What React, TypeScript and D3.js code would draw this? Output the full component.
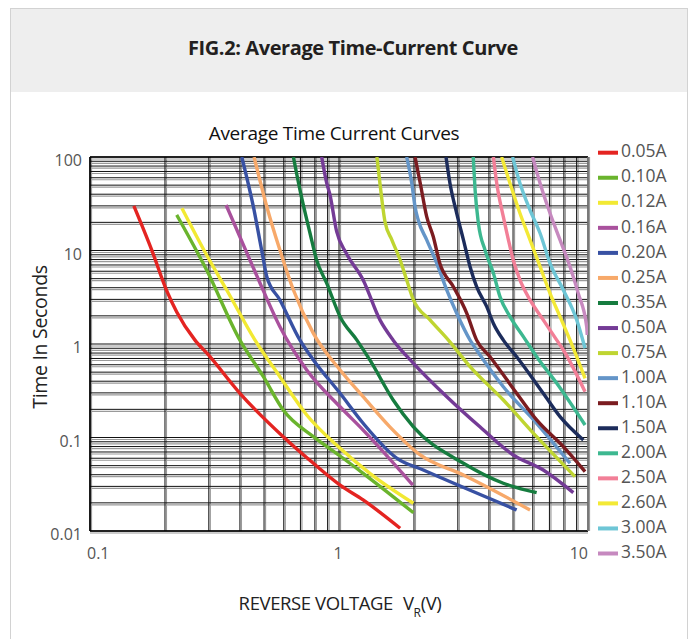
import React from "react";
import * as d3 from "d3";

// ---------- data ----------
const currents = ["0.05A","0.10A","0.12A","0.16A","0.20A","0.25A","0.35A","0.50A","0.75A","1.00A","1.10A","1.50A","2.00A","2.50A","2.60A","3.00A","3.50A"];
const colors = ["#e42421","#6ab42d","#f2e933","#a9519d","#3851a3","#f7a96a","#167c3f","#743b96","#bfd531","#6495c8","#7b1c20","#1c2c5b","#3db890","#f27f97","#f3e936","#6ec6d6","#c689bf"];

const xTickValues = [0.1, 1, 10];
const xTickLabels = ["0.1", "1", "10"];
const yTickValues = [100, 10, 1, 0.1, 0.01];
const yTickLabels = ["100", "10", "1", "0.1", "0.01"];

const s005 = [[0.150,30],[0.177,10.1],[0.204,3.63],[0.223,2.2],[0.264,1.10],[0.299,0.763],[0.40,0.297],[0.597,0.102],[0.789,0.053],[1.01,0.031],[1.25,0.0215],[1.76,0.0107]];
const s010 = [[0.223,24],[0.294,6.18],[0.40,1.10],[0.497,0.447],[0.597,0.197],[0.789,0.102],[1.01,0.0634],[1.25,0.0414],[1.99,0.0157]];
const s012 = [[0.234,28.3],[0.294,8.95],[0.354,3.78],[0.46,1.10],[0.579,0.447],[0.742,0.174],[1.01,0.0766],[1.33,0.0414],[1.99,0.0198]];
const s016 = [[0.352,30.7],[0.413,11.5],[0.482,4.46],[0.579,1.53],[0.742,0.527],[1.01,0.213],[1.25,0.120],[1.98,0.031]];
const s020 = [[0.407,100],[0.453,29.4],[0.489,10.1],[0.513,5.25],[0.579,2.96],[0.697,1.10],[0.789,0.675],[1.01,0.297],[1.25,0.142],[1.71,0.0599],[2.18,0.0449],[5.17,0.0168]];
const s025 = [[0.456,100],[0.513,29.4],[0.579,10.1],[0.656,3.78],[0.789,1.30],[1.01,0.527],[1.25,0.273],[1.60,0.130],[2.12,0.065],[3.16,0.0397],[5.85,0.0168]];
const s035 = [[0.656,100],[0.697,44.4],[0.765,15.3],[0.813,7.91],[0.893,4.46],[1.01,1.96],[1.18,1.10],[1.33,0.675],[1.65,0.252],[1.99,0.130],[3.16,0.053],[4.57,0.0324],[6.22,0.0257]];
const s050 = [[0.852,100],[0.893,52.4],[0.92,39.3],[0.979,15.9],[1.07,9.33],[1.25,4.84],[1.46,1.81],[1.65,1.10],[1.99,0.622],[2.71,0.273],[3.68,0.130],[5.01,0.065],[6.61,0.0449],[8.73,0.0257]];
const s075 = [[1.42,100],[1.46,52.4],[1.53,20.3],[1.63,13.0],[1.76,7.91],[1.87,4.84],[1.99,2.96],[2.32,1.81],[2.75,1.10],[3.36,0.572],[4.57,0.252],[6.22,0.102],[8.87,0.0381]];
const s100 = [[1.87,100],[1.96,52.4],[2.02,29.4],[2.08,21.2],[2.25,13.0],[2.47,7.30],[2.71,3.78],[2.97,2.13],[3.36,1.10],[3.57,0.863],[4.57,0.349],[6.22,0.142],[8.47,0.053]];
const s110 = [[2.02,100],[2.12,52.4],[2.25,23.0],[2.39,14.1],[2.54,7.30],[2.88,4.10],[3.26,2.13],[3.57,1.10],[4.04,0.731],[5.17,0.297],[6.22,0.154],[7.96,0.0797],[9.73,0.0431]];
const s150 = [[2.69,100],[2.79,52.4],[2.97,25.0],[3.16,13.0],[3.36,6.71],[3.57,4.10],[3.92,2.51],[4.17,1.66],[4.57,1.10],[5.17,0.731],[6.61,0.297],[7.72,0.167],[9.58,0.094]];
const s200 = [[3.46,100],[3.52,44.4],[3.63,19.5],[3.86,10.1],[4.17,5.70],[4.43,3.21],[4.86,1.96],[5.50,1.20],[6.22,0.731],[7.49,0.380],[9.73,0.136]];
const s250 = [[4.17,100],[4.30,52.4],[4.57,23.0],[4.79,13.0],[5.01,7.91],[5.33,4.84],[5.85,2.96],[6.61,1.81],[7.49,1.10],[7.96,0.863],[9.73,0.309]];
const s260 = [[4.50,100],[4.86,52.4],[5.33,25.0],[5.85,13.0],[6.42,6.71],[7.04,3.48],[7.72,1.96],[8.47,1.10],[9.73,0.430]];
const s300 = [[4.98,100],[5.33,52.4],[5.85,27.1],[6.42,15.3],[7.04,7.30],[7.96,3.78],[9.01,1.81],[9.73,0.90]];
const s350 = [[5.99,100],[6.42,52.4],[7.04,25.0],[7.72,13.0],[8.47,6.71],[9.14,3.48],[9.88,1.53],[9.93,1.25]];

const seriesData = [s005,s010,s012,s016,s020,s025,s035,s050,s075,s100,s110,s150,s200,s250,s260,s300,s350];

// ---------- layout ----------
const W = 697, H = 639;
const PL = 90, PR = 588, PT = 157, PB = 531;

export default function App() {
  const x = d3.scaleLog().domain([0.1, 10]).range([PL, PR]);
  const y = d3.scaleLog().domain([0.01, 100]).range([PB, PT]);

  const xGrid: number[] = [];
  [0.1, 1].forEach(d => { for (let m = 1; m <= 9; m++) xGrid.push(d * m); });
  xGrid.push(10);
  const yGrid: number[] = [];
  [0.01, 0.1, 1, 10].forEach(d => { for (let m = 1; m <= 9; m++) yGrid.push(d * m); });
  yGrid.push(100);

  const line = d3.line<number[]>()
    .x(d => x(d[0]))
    .y(d => y(d[1]))
    .curve(d3.curveMonotoneX);

  const font = "'Open Sans', 'Noto Sans', sans-serif";

  return (
    <svg width={W} height={H} style={{ position: "absolute", left: 0, top: 0, background: "#fff" }} fontFamily={font}>
      {/* frame + header */}
      <rect x={10.5} y={8.5} width={677} height={700} fill="#fff" stroke="#d2d2d2" strokeWidth={1} />
      <rect x={11} y={9} width={676} height={83} fill="#eeeeee" />
      <text x={353} y={55} textAnchor="middle" fontSize={20} fontWeight={700} fill="#231f20" letterSpacing={-0.4}>
        FIG.2: Average Time-Current Curve
      </text>

      <text x={334} y={140} textAnchor="middle" fontSize={19} fill="#111" letterSpacing={-0.3}>
        Average Time Current Curves
      </text>

      {/* grid - gray shadow */}
      <g stroke="#9a9a9a" strokeWidth={1.2}>
        {xGrid.map((v, i) => (
          <line key={"gx" + i} x1={x(v) + 1.5} x2={x(v) + 1.5} y1={PT} y2={PB} />
        ))}
        {yGrid.map((v, i) => (
          <line key={"gy" + i} x1={PL} x2={PR} y1={y(v) + 2} y2={y(v) + 2} />
        ))}
      </g>
      {/* grid - black */}
      <g stroke="#111" strokeWidth={1}>
        {xGrid.map((v, i) => (
          <line key={"bx" + i} x1={x(v)} x2={x(v)} y1={PT} y2={PB} />
        ))}
        {yGrid.map((v, i) => (
          <line key={"by" + i} x1={PL} x2={PR} y1={y(v)} y2={y(v)} />
        ))}
      </g>
      <line x1={PL} x2={PL} y1={PT} y2={PB} stroke="#000" strokeWidth={1.6} />
      <line x1={PL} x2={PR} y1={PB} y2={PB} stroke="#000" strokeWidth={1.6} />
      <line x1={PL} x2={PR} y1={PT} y2={PT} stroke="#000" strokeWidth={1.4} />
      <line x1={PR} x2={PR} y1={PT} y2={PB} stroke="#777" strokeWidth={1.6} />

      {/* curves */}
      <defs>
        <clipPath id="plotClip">
          <rect x={PL} y={PT} width={PR - PL} height={PB - PT} />
        </clipPath>
      </defs>
      <g clipPath="url(#plotClip)" fill="none" strokeWidth={3.4} strokeLinecap="butt" strokeLinejoin="round">
        {seriesData.map((s, i) => (
          <path key={"s" + i} d={line(s as number[][]) || ""} stroke={colors[i]} />
        ))}
      </g>

      {/* y tick labels */}
      {yTickValues.map((v, i) => (
        <text key={"yt" + i} x={82} y={y(v) + 5} textAnchor="end" dominantBaseline="middle" fontSize={16} fill="#555">
          {yTickLabels[i]}
        </text>
      ))}
      {/* x tick labels */}
      {xTickValues.map((v, i) => (
        <text key={"xt" + i}
          x={i === 0 ? x(v) - 3 : i === xTickValues.length - 1 ? x(v) : x(v) - 1}
          y={559}
          textAnchor={i === 0 ? "start" : i === xTickValues.length - 1 ? "end" : "middle"}
          fontSize={16} fill="#555">
          {xTickLabels[i]}
        </text>
      ))}

      {/* axis titles */}
      <text transform={`translate(47, 337) rotate(-90)`} textAnchor="middle" fontSize={19.5} fill="#222" letterSpacing={-0.3}>
        Time In Seconds
      </text>
      <text x={340} y={610} textAnchor="middle" fontSize={18.5} fill="#222" letterSpacing={-0.4}>
        REVERSE VOLTAGE<tspan dx={10}>V</tspan><tspan fontSize={12} dy={7}>R</tspan><tspan dy={-7}>(V)</tspan>
      </text>

      {/* legend */}
      {currents.map((c, i) => (
        <g key={"lg" + i} transform={`translate(0, ${152.7 + i * 25.05})`}>
          <rect x={598} y={-2} width={20} height={4} fill={colors[i]} />
          <text x={621} y={0} dominantBaseline="middle" fontSize={17.5} fill="#555">{c}</text>
        </g>
      ))}
    </svg>
  );
}
